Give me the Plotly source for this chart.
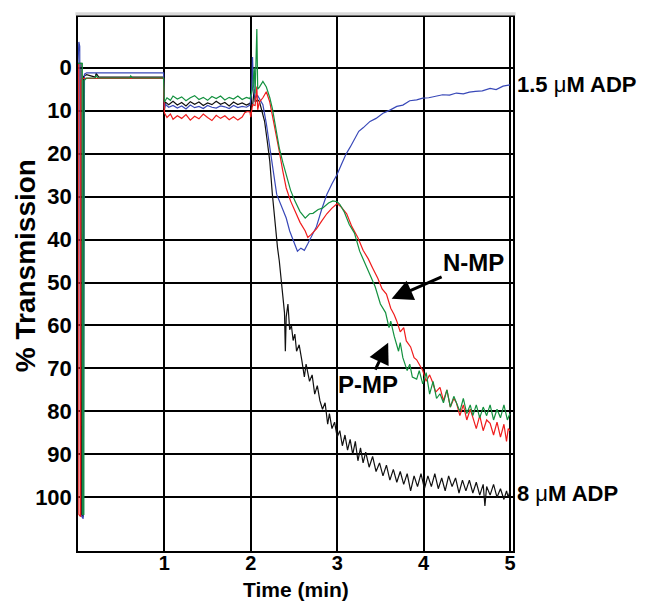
import plotly.graph_objects as go

# trazas: (tiempo en min, % transmision)
blue = [(0, -1), (0.01, -6), (0.02, -5), (0.03, 104), (0.06, 105), (0.07, 10), (0.075, 1.5), (0.1, 1.2),
        (0.99, 1.2), (1.0, 9.5), (1.01, 8.5), (1.05, 9.2), (1.1, 8.8), (1.15, 9.4), (1.2, 8.9), (1.25, 9.6),
        (1.3, 8.7), (1.35, 9.3), (1.4, 9.0), (1.45, 9.5), (1.5, 8.8), (1.55, 9.2), (1.6, 9.4), (1.65, 8.9),
        (1.7, 9.1), (1.75, 9.5), (1.8, 8.8), (1.85, 9.3), (1.9, 9.0), (1.95, 9.2), (1.99, 8.7),
        (2.01, 6), (2.02, -2.5), (2.03, 4), (2.05, 7), (2.08, 6.5), (2.11, 7.5), (2.14, 8.6), (2.18, 13),
        (2.22, 18), (2.26, 24), (2.30, 29.5), (2.34, 31.5), (2.37, 32.7), (2.41, 35), (2.45, 38), (2.49, 40),
        (2.54, 42.7), (2.58, 42), (2.62, 42.5), (2.66, 41), (2.70, 39.5), (2.76, 37), (2.82, 33), (2.88, 29.5),
        (2.94, 27), (3.0, 24.8), (3.05, 22.5), (3.1, 20.2), (3.15, 18.5), (3.2, 16.5), (3.25, 14.8), (3.3, 14),
        (3.38, 12.5), (3.45, 11.8), (3.53, 10.6), (3.6, 10), (3.69, 9), (3.76, 8.7), (3.84, 7.7), (3.92, 7.5),
        (3.99, 7.1), (4.06, 7.0), (4.14, 6.6), (4.22, 6.3), (4.3, 6.4), (4.38, 5.9), (4.46, 6.1), (4.53, 5.7),
        (4.6, 5.5), (4.68, 5.4), (4.77, 4.8), (4.84, 5.1), (4.92, 4.3), (5.0, 4.0)]

red = [(0, -1), (0.008, -0.7), (0.01, 104), (0.03, 104.5), (0.033, 3), (0.05, 2.5), (0.99, 2.5),
       (1.0, 10.5), (1.03, 11.6), (1.07, 10.8), (1.1, 12), (1.15, 11.2), (1.2, 11.8), (1.25, 10.9), (1.3, 12.2),
       (1.35, 11.3), (1.4, 11.9), (1.45, 10.8), (1.5, 11.6), (1.55, 12.3), (1.6, 11.1), (1.65, 11.8), (1.7, 11.2),
       (1.75, 12.1), (1.8, 11.4), (1.85, 12.2), (1.9, 11.5), (1.93, 10.5), (1.96, 10.2), (1.99, 10.3),
       (2.0, 11.5), (2.02, 8.6), (2.05, 8.8), (2.07, 4.4), (2.08, 9.8), (2.1, 8), (2.14, 7), (2.18, 5.6),
       (2.22, 8), (2.25, 11), (2.29, 15), (2.33, 19.5), (2.37, 24), (2.41, 28), (2.46, 31), (2.51, 33.4),
       (2.57, 36), (2.63, 38), (2.66, 39.5), (2.70, 38.8), (2.76, 37.5), (2.82, 35.7), (2.88, 34), (2.94, 32.7),
       (3.0, 31.6), (3.05, 32.5), (3.11, 34), (3.17, 37), (3.24, 39.6), (3.3, 42.5), (3.36, 44.5), (3.41, 46.6),
       (3.47, 49), (3.52, 51.5), (3.57, 52.7), (3.62, 56), (3.66, 57.5), (3.69, 59), (3.73, 61.5), (3.77, 60.5),
       (3.8, 63.6), (3.85, 65), (3.89, 67.5), (3.92, 68), (3.96, 69.5), (3.99, 70.5), (4.03, 73), (4.07, 71.5),
       (4.1, 73), (4.14, 75.5), (4.19, 74.4), (4.23, 77.5), (4.27, 75), (4.31, 79), (4.35, 77), (4.38, 78),
       (4.42, 81), (4.46, 78.5), (4.5, 82), (4.54, 79.5), (4.57, 81.4), (4.61, 84), (4.65, 81), (4.69, 84.5),
       (4.73, 82), (4.77, 82.8), (4.81, 85.5), (4.85, 82.5), (4.89, 86), (4.93, 83), (4.96, 87), (4.98, 84),
       (5.0, 84.5)]

green = [(0, -1), (0.05, -1), (0.052, 104), (0.068, 104), (0.07, 3), (0.1, 2.4), (0.2, 2.4), (0.21, 1.8),
         (0.23, 2.4), (0.6, 2.4), (0.61, 1.9), (0.63, 2.4), (0.99, 2.4),
         (1.0, 8), (1.03, 7.0), (1.07, 7.6), (1.1, 6.6), (1.15, 7.3), (1.2, 6.8), (1.25, 7.7), (1.3, 7.0),
         (1.35, 6.5), (1.4, 7.4), (1.45, 6.9), (1.5, 7.6), (1.55, 6.7), (1.6, 7.2), (1.65, 6.6), (1.7, 7.5),
         (1.75, 6.9), (1.8, 7.3), (1.85, 6.6), (1.9, 7.4), (1.95, 6.9), (1.99, 7.2),
         (2.02, 5), (2.04, 0), (2.05, 6), (2.07, -9), (2.08, 5), (2.1, 4.5), (2.14, 3.2), (2.18, 4.5),
         (2.22, 7), (2.25, 9.5), (2.29, 14), (2.33, 18.7), (2.37, 22), (2.41, 24.9), (2.46, 28.5), (2.51, 31),
         (2.57, 33.5), (2.63, 35), (2.68, 34), (2.72, 33.9), (2.78, 33), (2.83, 32.7), (2.9, 31.5), (2.95, 31),
         (3.0, 31.2), (3.03, 31.8), (3.08, 33.5), (3.14, 36.5), (3.2, 38.5), (3.26, 42.7), (3.32, 45.5),
         (3.38, 48), (3.44, 51), (3.5, 55), (3.53, 56), (3.56, 57), (3.6, 60.5), (3.62, 59), (3.66, 62.5),
         (3.71, 66), (3.73, 64), (3.76, 67.5), (3.81, 70.5), (3.84, 69), (3.87, 72), (3.92, 72.5), (3.95, 70.5),
         (3.99, 73.6), (4.03, 71), (4.07, 76), (4.11, 73), (4.15, 77), (4.19, 75.9), (4.23, 78), (4.27, 75),
         (4.31, 79), (4.35, 76.5), (4.38, 78), (4.42, 80), (4.46, 77), (4.5, 80.5), (4.54, 78.5), (4.57, 81),
         (4.61, 78.5), (4.65, 81.5), (4.69, 79), (4.73, 81), (4.77, 78.5), (4.81, 82), (4.85, 79.5), (4.89, 81.5),
         (4.93, 78.5), (4.97, 82), (5.0, 80.5)]

black = [(0, -1), (0.035, -1), (0.04, 104), (0.06, 104.5), (0.065, 2), (0.1, 1.6), (0.2, 2.2), (0.21, 1.3),
         (0.24, 2.2), (0.99, 2.2),
         (1.0, 10), (1.01, 8), (1.05, 8.6), (1.1, 7.8), (1.15, 8.7), (1.2, 8.1), (1.25, 8.9), (1.3, 7.9),
         (1.35, 8.5), (1.4, 8.0), (1.45, 8.8), (1.5, 8.2), (1.55, 8.6), (1.6, 7.8), (1.65, 8.5), (1.7, 8.1),
         (1.75, 8.9), (1.8, 8.0), (1.85, 8.6), (1.9, 8.2), (1.95, 8.7), (1.99, 8.3),
         (2.02, 9), (2.04, 5), (2.05, 8), (2.08, 7.5), (2.1, 7.9), (2.13, 10), (2.16, 12.5), (2.19, 17),
         (2.22, 21.8), (2.25, 29.5), (2.27, 34), (2.29, 38.7), (2.31, 42), (2.33, 45), (2.35, 50), (2.37, 53),
         (2.39, 57), (2.40, 66), (2.41, 58), (2.43, 55), (2.45, 61), (2.47, 60), (2.49, 63.5), (2.51, 62),
         (2.53, 66), (2.56, 64.5), (2.59, 68), (2.62, 72), (2.64, 69), (2.68, 73), (2.71, 71.5), (2.74, 76),
         (2.77, 74), (2.8, 77.5), (2.83, 79.5), (2.86, 78), (2.89, 83), (2.91, 80.5), (2.94, 84), (2.97, 82.5),
         (3.0, 86), (3.03, 84.5), (3.06, 88), (3.09, 85.5), (3.12, 89), (3.15, 86.5), (3.18, 90), (3.21, 87),
         (3.24, 91.5), (3.27, 88.5), (3.3, 92), (3.33, 89.5), (3.37, 93), (3.41, 90.5), (3.45, 94), (3.49, 92),
         (3.53, 95), (3.57, 92.5), (3.61, 96), (3.65, 93.5), (3.69, 96.5), (3.73, 94), (3.77, 97), (3.81, 94.5),
         (3.85, 98.5), (3.89, 95), (3.93, 97.5), (3.97, 94.5), (4.01, 98), (4.05, 95), (4.09, 97.5), (4.13, 94.5),
         (4.17, 98), (4.21, 95.5), (4.25, 98.5), (4.29, 95), (4.33, 97.5), (4.37, 95.5), (4.41, 99), (4.45, 96),
         (4.49, 98.5), (4.53, 96), (4.57, 99), (4.61, 96.5), (4.65, 99.5), (4.69, 97), (4.71, 102), (4.73, 97.5),
         (4.77, 99.5), (4.81, 97), (4.85, 100), (4.89, 98), (4.93, 100.5), (4.96, 98.5), (4.98, 100), (5.0, 98.5)]

y_ticks = [0, 10, 20, 30, 40, 50, 60, 70, 80, 90, 100]
x_ticks = [1, 2, 3, 4, 5]

FUENTE = "Liberation Sans, Arial, sans-serif"

fig = go.Figure()
# orden de dibujo: negro debajo, verde arriba
for datos, color in [(black, "#111111"), (blue, "#3848b8"), (red, "#f01c1c"), (green, "#13913f")]:
    fig.add_trace(go.Scatter(x=[p[0] for p in datos], y=[p[1] for p in datos], mode="lines",
                             line=dict(color=color, width=1.2), showlegend=False, hoverinfo="skip"))

fig.update_xaxes(range=[0, 5.035], tickvals=x_ticks, showgrid=True, gridcolor="black", gridwidth=1.5,
                 zeroline=False, showline=True, linecolor="black", linewidth=1.5, mirror=True,
                 ticks="", ticklabelstandoff=-7,
                 tickfont=dict(family=FUENTE, size=20, color="black", weight="bold"))
fig.update_yaxes(range=[112.5, -11.8], tickvals=y_ticks, showgrid=True, gridcolor="black", gridwidth=1.5,
                 zeroline=False, showline=True, linecolor="black", linewidth=1.5, mirror=True,
                 ticks="", tickfont=dict(family=FUENTE, size=22, color="black", weight="bold"))

fig.add_shape(type="rect", xref="paper", yref="paper", x0=-0.006, x1=1.006, y0=1.003, y1=1.009,
              fillcolor="#d8d8d8", line=dict(width=0))

texto = dict(family=FUENTE, size=22, color="black", weight="bold")
flecha = dict(family=FUENTE, size=24, color="black", weight="bold")
fig.add_annotation(x=1.005, y=4, xref="paper", yref="y", xanchor="left", yanchor="middle", showarrow=False,
                   text="1.5 <span style='font-weight:normal'>μ</span>M ADP", font=texto)
fig.add_annotation(x=1.005, y=99, xref="paper", yref="y", xanchor="left", yanchor="middle", showarrow=False,
                   text="8 <span style='font-weight:normal'>μ</span>M ADP", font=texto)
fig.add_annotation(x=3.63, y=53.8, xref="x", yref="y", ax=82, ay=-36, text="N-MP", font=flecha,
                   showarrow=True, arrowhead=2, arrowsize=1.4, arrowwidth=3, arrowcolor="black")
fig.add_annotation(x=3.59, y=64, xref="x", yref="y", ax=-20, ay=42, text="P-MP", font=flecha,
                   showarrow=True, arrowhead=2, arrowsize=1.4, arrowwidth=3, arrowcolor="black")
fig.add_annotation(x=-0.122, y=0.535, xref="paper", yref="paper", textangle=-90, showarrow=False,
                   xanchor="center", yanchor="middle",
                   text="% Transmission", font=dict(family=FUENTE, size=28, color="black", weight="bold"))
fig.add_annotation(x=0.5, y=-0.0727, xref="paper", yref="paper", showarrow=False,
                   xanchor="center", yanchor="middle",
                   text="Time (min)", font=dict(family=FUENTE, size=21, color="black", weight="bold"))

# la pagina desplaza la figura 8 px (margen del body), se compensa aqui
fig.update_layout(width=646, height=604, margin=dict(l=70, r=141, t=7, b=61),
                  plot_bgcolor="white", paper_bgcolor="white")

fig.write_html("out.html")
